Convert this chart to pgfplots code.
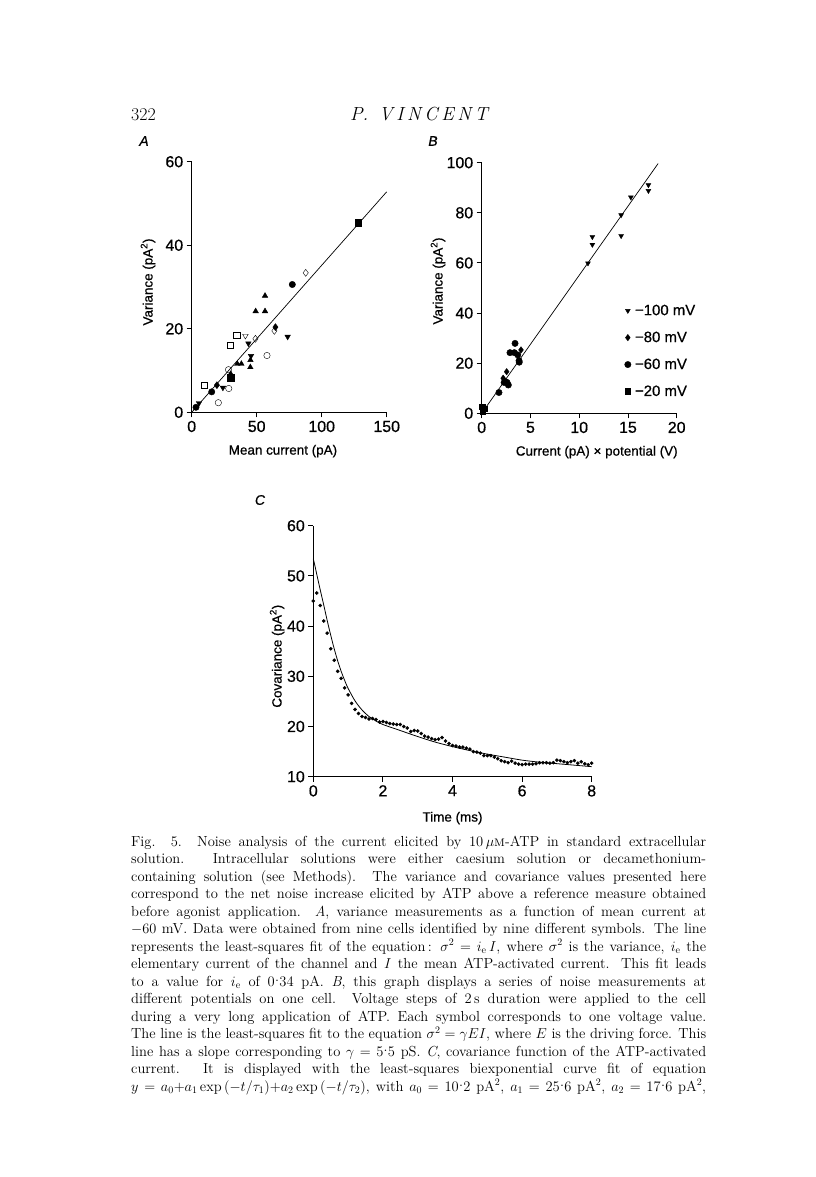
\documentclass[border=0pt]{standalone}
\usepackage{fontspec}
\usepackage{pgfplots}
\pgfplotsset{compat=1.18}
\newfontfamily\figfont{Liberation Sans}[FakeBold=0.6]
\newcommand\md{\kern0.3pt\raisebox{0.33em}{.}\kern0.3pt}
\newcommand\capline[2]{\node[anchor=base west, inner sep=0pt] at (131bp,-#1bp) {\fontsize{14.6}{17.5}\selectfont\makebox[575bp][s]{#2}};}
\pgfplotsset{
 vstyle/.style={
  scale only axis,
  axis lines=left,
  axis line style={-, line width=0.9bp},
  tick align=outside,
  major tick length=5bp,
  tick style={line width=0.9bp, black},
  every tick label/.append style={font=\figfont\fontsize{16}{17}\selectfont},
  /pgf/number format/assume math mode=true,
  every axis y label/.style={rotate=90, anchor=center, font=\figfont\fontsize{13.5}{14}\selectfont},
  every axis x label/.style={anchor=center, font=\figfont\fontsize{13.5}{14}\selectfont},
  clip=false,
 },
 mk/.style={only marks, mark size=3.2bp, black},
 tdn/.style={mk, mark=triangle*, mark options={rotate=180}},
 tdo/.style={mk, mark=triangle, mark options={rotate=180}},
}
\begin{document}
\begin{tikzpicture}
\path[use as bounding box, fill=white] (0bp,0bp) rectangle (816bp,-1177bp);
% header
\node[anchor=base west, inner sep=0pt] at (131bp,-120bp) {\fontsize{18}{20}\selectfont 322};
\node[anchor=base, inner sep=0pt] at (419bp,-120bp) {\fontsize{19}{20}\selectfont\itshape\makebox[138bp][s]{P.\hfil\hfil\hfil V\hfil I\hfil N\hfil C\hfil E\hfil N\hfil T}};
% panel letters
\node[anchor=center] at (144bp,-141bp) {\figfont\itshape\fontsize{14}{15}\selectfont A};
\node[anchor=center] at (433bp,-141bp) {\figfont\itshape\fontsize{14}{15}\selectfont B};
\node[anchor=center] at (260bp,-500bp) {\figfont\itshape\fontsize{14}{15}\selectfont C};

% Panel A
\begin{axis}[vstyle, at={(191.7bp,-412.3bp)}, anchor=south west,
  width=195bp, height=250.6bp,
  xmin=0, xmax=150, ymin=0, ymax=60,
  xtick={0,50,100,150}, ytick={0,20,40,60},
  xlabel={Mean current (pA)}, ylabel={Variance (pA\textsuperscript{2})},
  xlabel style={at={(axis description cs:0.468,-0.155)}},
  ylabel style={at={(axis description cs:-0.224,0.52)}}]
\addplot[line width=0.7bp, black] coordinates {(0,0) (150,52.8)};
\addplot[mk, mark=square*] coordinates {(128.2,45.4) (30,8.3)};
\addplot[mk, mark=*] coordinates {(77.4,30.6) (15.4,4.9) (3.3,1.2)};
\addplot[mk, mark=o] coordinates {(57.9,13.6) (28.3,10.2) (28.5,5.7) (20.5,2.3)};
\addplot[mk, mark=diamond, mark size=3.5bp] coordinates {(87.7,33.4) (63.6,19.5) (49,17.6)};
\addplot[mk, mark=diamond*, mark size=3.5bp] coordinates {(64.4,20.4) (19.4,6.5)};
\addplot[mk, mark=triangle*] coordinates {(56.4,27.9) (49.2,24.2) (56.4,24.2) (45.2,12.5) (45.1,10.8) (35.1,11.6) (38.2,11.6) (30,9.2)};
\addplot[tdn] coordinates {(73.8,18.1) (43.6,16.5) (45.6,13.5) (24.0,5.9) (5.6,2.2)};
\addplot[tdo] coordinates {(41.3,18.3)};
\addplot[mk, mark=square] coordinates {(34.6,18.5) (29.7,16.0) (9.5,6.5)};
\end{axis}

% Panel B
\begin{axis}[vstyle, at={(481.7bp,-413.3bp)}, anchor=south west,
  width=195bp, height=250.6bp,
  xmin=0, xmax=20, ymin=0, ymax=100,
  xtick={0,5,10,15,20}, ytick={0,20,40,60,80,100},
  xlabel={Current (pA) × potential (V)}, ylabel={Variance (pA\textsuperscript{2})},
  xlabel style={at={(axis description cs:0.59,-0.155)}},
  ylabel style={at={(axis description cs:-0.224,0.528)}},
  legend style={draw=none, fill=none, at={(axis description cs:0.732,0.44)}, anchor=north west,
     font=\figfont\fontsize{15}{16}\selectfont, row sep=12bp, inner sep=0pt,
     nodes={inner sep=1.5bp}},
  legend cell align=left,
  legend image code/.code={\draw[#1] plot coordinates {(0bp,0bp)};}]
\addplot[tdn, mark size=2.8bp] coordinates {(17.1,91.1) (17.1,88.8) (15.3,86.2) (14.3,79.1) (14.3,70.8) (11.35,70.4) (11.35,67.3) (10.9,59.9) (0.2,1.0)};
\addlegendentry{\,−100 mV}
\addplot[mk, mark=diamond*, mark size=3.2bp] coordinates {(4.03,25.3) (2.56,16.6) (2.2,14.0) (0.1,2.0)};
\addlegendentry{\,−80 mV}
\addplot[mk, mark=*, mark size=3.2bp] coordinates {(3.42,27.9) (2.9,24.2) (3.35,24.2) (3.7,23.3) (3.83,21.0) (3.85,20.4) (2.46,12.6) (2.6,12.3) (2.73,11.3) (2.3,12.3) (1.77,8.3) (0.15,1.5)};
\addlegendentry{\,−60 mV}
\addplot[mk, mark=square*, mark size=2.8bp] coordinates {(0.05,2.6) (0.25,1.8) (0.1,0.8)};
\addlegendentry{\,−20 mV}
\addplot[line width=0.7bp, black, forget plot] coordinates {(0,0) (18.1,99.7)};
\end{axis}

% Panel C
\begin{axis}[vstyle, at={(313.3bp,-776.7bp)}, anchor=south west,
  width=278.4bp, height=251bp,
  xmin=0, xmax=8, ymin=10, ymax=60,
  xtick={0,2,4,6,8}, ytick={10,20,30,40,50,60},
  xlabel={Time (ms)}, ylabel={Covariance (pA\textsuperscript{2})},
  xlabel style={at={(axis description cs:0.5,-0.165)}},
  ylabel style={at={(axis description cs:-0.13,0.48)}}]
\addplot[line width=0.8bp, black, smooth] coordinates {(0,53.4) (0.05,51.9) (0.1,50.3) (0.2,47.2) (0.3,44.2) (0.4,41.1) (0.5,38.2) (0.6,35.5) (0.7,33.1) (0.8,31.0) (0.9,29.2) (1.0,27.6) (1.2,25.1) (1.4,23.3) (1.6,22.0) (1.8,21.1) (2.0,20.4) (2.5,19.2) (3.0,18.0) (3.5,16.9) (4.0,16.0) (4.5,15.2) (5.0,14.5) (5.5,13.9) (6.0,13.3) (6.5,12.9) (7.0,12.6) (7.5,12.3) (8.0,12.0)};
\addplot[only marks, mark=*, mark size=1.6bp, black] coordinates {
(0.0,45.0) (0.1,46.6) (0.2,44.1) (0.3,41.0) (0.4,38.6) (0.5,35.5) (0.6,33.2) (0.7,31.0) (0.8,29.6) (0.9,27.7)
(1.0,26.3) (1.1,24.6) (1.2,23.4) (1.3,22.6) (1.4,22.0) (1.5,21.8) (1.6,21.5) (1.7,21.6) (1.8,21.4) (1.9,20.9)
(2.0,21.0) (2.1,20.8) (2.2,20.6) (2.3,20.5) (2.4,20.4) (2.5,20.4) (2.6,20.0) (2.7,19.7) (2.8,19.0) (2.9,19.2)
(3.0,19.1) (3.1,18.6) (3.2,18.1) (3.3,17.9) (3.4,17.6) (3.5,17.4) (3.6,17.5) (3.7,17.8) (3.8,17.1) (3.9,16.6)
(4.0,16.2) (4.1,16.1) (4.2,15.9) (4.3,15.9) (4.4,15.7) (4.5,15.5) (4.6,15.0) (4.7,14.9) (4.8,14.7) (4.9,14.2)
(5.0,14.2) (5.1,14.2) (5.2,13.9) (5.3,13.6) (5.4,13.2) (5.5,13.0) (5.6,12.8) (5.7,13.1) (5.8,12.7) (5.9,12.5)
(6.0,12.4) (6.1,12.5) (6.2,12.5) (6.3,12.5) (6.4,12.6) (6.5,12.8) (6.6,12.8) (6.7,12.8) (6.8,12.7) (6.9,12.8)
(7.0,13.3) (7.1,13.2) (7.2,13.0) (7.3,12.8) (7.4,13.0) (7.5,13.2) (7.6,12.7) (7.7,13.0) (7.8,12.6) (7.9,12.4) (8.0,12.7)};
\end{axis}

% caption
\capline{846}{Fig. 5. Noise analysis of the current elicited by 10\,$\mu$\textsc{m}-ATP in standard extracellular}
\capline{863.5}{solution. Intracellular solutions were either caesium solution or decamethonium-}
\capline{881}{containing solution (see Methods). The variance and covariance values presented here}
\capline{898.5}{correspond to the net noise increase elicited by ATP above a reference measure obtained}
\capline{916}{before agonist application. \textit{A}, variance measurements as a function of mean current at}
\capline{933.5}{$-60$ mV. Data were obtained from nine cells identified by nine different symbols. The line}
\capline{951}{represents the least-squares fit of the equation\,: $\sigma^2 = i_{\rm e}\,I$, where $\sigma^2$ is the variance, $i_{\rm e}$ the}
\capline{968.5}{elementary current of the channel and $I$ the mean ATP-activated current. This fit leads}
\capline{986}{to a value for $i_{\rm e}$ of 0\md34 pA. \textit{B}, this graph displays a series of noise measurements at}
\capline{1003.5}{different potentials on one cell. Voltage steps of 2\,s duration were applied to the cell}
\capline{1021}{during a very long application of ATP. Each symbol corresponds to one voltage value.}
\capline{1038.5}{The line is the least-squares fit to the equation $\sigma^2 = \gamma EI$, where $E$ is the driving force. This}
\capline{1056}{line has a slope corresponding to $\gamma = {}$5\md5 pS. \textit{C}, covariance function of the ATP-activated}
\capline{1073.5}{current. It is displayed with the least-squares biexponential curve fit of equation}
\capline{1091}{$y = a_0{+}a_1\exp{(-t/\tau_1)}{+}a_2\exp{(-t/\tau_2)}$, with $a_0 = {}$10\md2 pA$^2$, $a_1 = {}$25\md6 pA$^2$, $a_2 = {}$17\md6 pA$^2$,}
\end{tikzpicture}
\end{document}
